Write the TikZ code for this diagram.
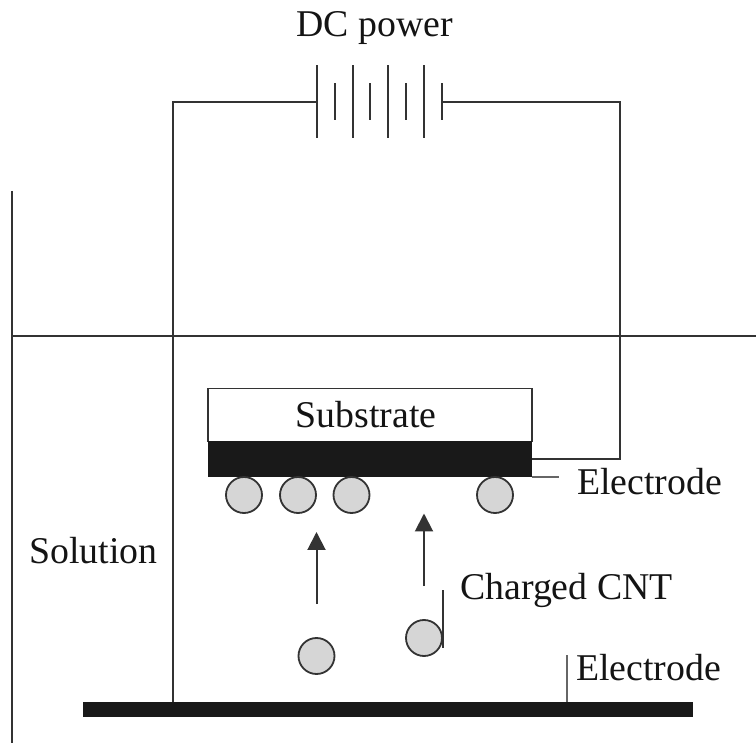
\documentclass[tikz,border=0pt]{standalone}
\usepackage{fontspec}
\setmainfont{Liberation Serif}
\usetikzlibrary{arrows.meta}
\usetikzlibrary{positioning}
\definecolor{cntgray}{gray}{0.84}
\definecolor{inkgray}{gray}{0.2}
\tikzset{basic/.style={inner sep=0pt,outer sep=0pt}}
\tikzset{plate/.style={basic,fill=inkgray,minimum width=2pt}}
\tikzset{longplate/.style={plate,minimum height=73pt}}
\tikzset{shortplate/.style={plate,minimum height=37pt}}
\tikzset{cnt/.style={basic,circle,draw=inkgray,fill=cntgray,line width=1.8pt,minimum size=36pt}}
\tikzset{label/.style={font=\fontsize{37.8}{40}\selectfont,text=black!92}}
\tikzset{leader/.style={draw=black!60,line width=1.5pt}}

\begin{document}
\begin{tikzpicture}[
		x = 1pt, y = -1pt,
		> = {Triangle[length=18pt,width=18pt]}, % arrow head style
		node distance = 17.8pt, % distance between plates
		line width = 1.8pt, % line style
		draw = inkgray
		]
		
		\useasboundingbox (0,0) rectangle (756,743);
		
		\node[label] (dc) at (374.5,28) {DC power};
		
		% Battery
		\node[longplate] (p1) at (317,102) {};
		\node[shortplate] (p2) [right of=p1] {};
		\node[longplate] (p3) [right of=p2] {};
		\node[shortplate] (p4) [right of=p3] {};
		\node[longplate] (p5) [right of=p4] {};
		\node[shortplate] (p6) [right of=p5] {};
		\node[longplate] (p7) [right of=p6] {};
		\node[shortplate] (p8) [right of=p7] {};
		
		% Substrate and electrodes
		\node[basic,draw,fill=white,minimum width=324pt,minimum height=53pt] (sub) at (370,415) {};
		\node[label] (sublabel) at (366,415) {Substrate};
		\node[basic,fill=black!90,minimum width=324pt,minimum height=36pt] (top) at (370,459) {};
		\node[basic,fill=black!90,minimum width=610pt,minimum height=15pt] (bot) at (388,709.5) {};
		
		% Wires
		\coordinate (lt) at (173,102);
		\coordinate (rt) at (620,102);
		\draw (bot.north -| lt) -- (lt) -- (p1);
		\draw (p8) -- (rt) -- (top.east -| rt) -- (top.east);
		
		% Tank
		\coordinate (wt) at (12,191);
		\coordinate (wb) at (12,743);
		\coordinate (sl) at (12,336);
		\coordinate (sr) at (756,336);
		\draw[line width=1.5pt] (wt) -- (wb);
		\draw[line width=1.5pt] (sl) -- (sr);
		
		% Nanotubes
		\node[cnt] (c1) at (244,495) {};
		\node[cnt] (c2) at (298,495) {};
		\node[cnt] (c3) at (351.5,495) {};
		\node[cnt] (c4) at (495,495) {};
		\node[cnt] (c5) at (316.5,656) {};
		\node[cnt] (c6) at (424,638) {};
		
		% Drift
		\coordinate (a1s) at (316.5,604);
		\coordinate (a1e) at (316.5,532);
		\coordinate (a2s) at (424,586);
		\coordinate (a2e) at (424,513.5);
		\draw[->,line width=2pt] (a1s) -- (a1e);
		\draw[->,line width=2pt] (a2s) -- (a2e);
		
		% Labels
		\node[label] (sol) at (93.5,551) {Solution};
		\node[label] (e1) at (649.5,482) {Electrode};
		\node[label] (cnt) at (566.5,590) {Charged CNT};
		\node[label] (e2) at (648.5,668) {Electrode};
		
		% Leaders
		\coordinate (l1) at (559,477);
		\coordinate (l2) at (443,590);
		\coordinate (l3) at (443,648);
		\coordinate (l4) at (567,655);
		\draw[leader] (top.south east) -- (l1);
		\draw[line width=1.8pt] (l2) -- (l3);
		\draw[leader] (l4) -- (bot.north -| l4);
	\end{tikzpicture}
\end{document}
